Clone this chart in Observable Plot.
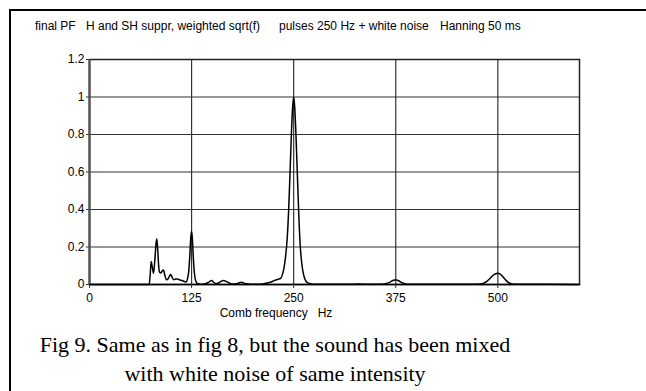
<!DOCTYPE html>
<html>
<head>
<meta charset="utf-8">
<script src="https://cdn.jsdelivr.net/npm/d3@7"></script>
<script src="https://cdn.jsdelivr.net/npm/@observablehq/plot@0.6"></script>
<style>
  html, body { margin: 0; padding: 0; background: #fff; }
  #wrap { position: relative; width: 646px; height: 391px; overflow: hidden; background: #fff;
          font-family: "Liberation Sans", Arial, sans-serif; color: #000; }
  #border { position: absolute; left: 9px; top: 9px; width: 700px; height: 500px;
            border-top: 2px solid #000; border-left: 2px solid #000; }
  .hdr { position: absolute; top: 19px; font-size: 12px; line-height: 14px; white-space: nowrap; }
  #chart { position: absolute; left: 0; top: 0; }
  #xlabel { position: absolute; left: 176px; width: 200px; top: 306px; text-align: center;
            font-size: 12px; line-height: 14px; white-space: pre; }
  #caption { position: absolute; left: 0; width: 550px; top: 330px; text-align: center;
             font-family: "Liberation Serif", "Times New Roman", serif; font-size: 22px; line-height: 29px; }
</style>
</head>
<body>
<div id="wrap">
  <div id="border"></div>
  <div class="hdr" style="left:35px">final PF</div>
  <div class="hdr" style="left:86px">H and SH suppr, weighted sqrt(f)</div>
  <div class="hdr" style="left:279px">pulses 250 Hz + white noise</div>
  <div class="hdr" style="left:440px">Hanning 50 ms</div>
  <div id="chart"></div>
  <div id="xlabel">Comb frequency   Hz</div>
  <div id="caption">Fig 9. Same as in fig 8, but the sound has been mixed<br>with white noise of same intensity</div>
</div>
<script>
// Comb frequency (Hz)
const freq = [0, 73, 74.3, 75.5, 76.8, 78.4, 80, 81.3, 82.4, 83.6, 84.7, 85.8, 87.5, 89, 90.6, 92.3, 94.3, 96.5, 98.3, 99.6,
  101.3, 103.3, 105.5, 107.5, 110, 113.5, 116, 118.5, 120, 121.5, 122.8, 124, 125, 126, 127.2, 128.5, 130, 132,
  134, 138, 142, 146, 149.4, 152, 155, 158, 161, 164.5, 168, 172, 177, 182, 186, 190, 195, 200, 206, 212, 218, 223,
  227, 231, 234, 236, 238, 240, 242, 243.8, 245.5, 247.2, 248.8, 250, 251.2, 252.8, 254.5, 256.2, 258, 260,
  262, 264.5, 268, 273, 285, 300, 315, 330, 345, 358, 364, 368, 371.5, 375, 378.5, 382, 386, 392, 410, 430, 455, 475,
  482, 487, 491, 495, 498, 500, 502.5, 506, 510, 514, 519, 530, 560, 600];
// final PF values
const pf = [0, 0, 0.05, 0.123, 0.095, 0.06, 0.13, 0.21, 0.244, 0.18, 0.1, 0.066, 0.062, 0.072, 0.078, 0.048, 0.025, 0.032, 0.048, 0.053,
  0.036, 0.026, 0.029, 0.03, 0.025, 0.021, 0.016, 0.014, 0.03, 0.07, 0.15, 0.25, 0.284, 0.24, 0.14, 0.06, 0.02, 0.006,
  0.003, 0.002, 0.004, 0.012, 0.021, 0.012, 0.004, 0.008, 0.017, 0.021, 0.015, 0.006, 0.003, 0.007, 0.012, 0.006, 0.003, 0.002, 0.002, 0.003, 0.008, 0.015,
  0.022, 0.028, 0.033, 0.05, 0.085, 0.145, 0.24, 0.39, 0.59, 0.8, 0.95, 1.0, 0.95, 0.8, 0.59, 0.38, 0.21, 0.11,
  0.055, 0.022, 0.007, 0.002, 0.001, 0.002, 0.001, 0.003, 0.001, 0.002, 0.006, 0.013, 0.021, 0.025, 0.02, 0.011, 0.004, 0.001, 0.001, 0.002, 0.001, 0.002,
  0.006, 0.018, 0.035, 0.052, 0.059, 0.06, 0.057, 0.042, 0.022, 0.008, 0.002, 0.001, 0.001, 0];
const xTicks = [0, 125, 250, 375, 500];
const yTicks = [0, 0.2, 0.4, 0.6, 0.8, 1, 1.2];

const data = freq.map((f, i) => ({f, v: pf[i]}));

const chart = Plot.plot({
  width: 646,
  height: 330,
  marginLeft: 89,
  marginRight: 67,
  marginTop: 59,
  marginBottom: 46,
  style: {fontFamily: "Liberation Sans, Arial, sans-serif", fontSize: "12px", color: "#000", background: "transparent"},
  x: {domain: [0, 600]},
  y: {domain: [0, 1.2]},
  marks: [
    Plot.gridX(xTicks, {stroke: "#333", strokeOpacity: 1, strokeWidth: 1.2}),
    Plot.gridY(yTicks, {stroke: "#333", strokeOpacity: 1, strokeWidth: 1.2}),
    Plot.frame({stroke: "#222", strokeWidth: 1.5}),
    Plot.ruleX([0], {stroke: "#555", strokeWidth: 2.2}),
    Plot.lineY(data, {x: "f", y: "v", stroke: "#000", strokeWidth: 1.5, curve: "monotone-x"}),
    Plot.ruleY([0], {stroke: "#000", strokeWidth: 1.5}),
    Plot.axisX(xTicks, {tickSize: 4, tickPadding: 5, label: null, stroke: "#333", fill: "#000", fontSize: 12}),
    Plot.axisY(yTicks, {tickSize: 3, tickPadding: 2, label: null, stroke: "#333", fill: "#000", fontSize: 12,
      tickFormat: d => String(+d.toFixed(1))})
  ]
});
document.getElementById("chart").appendChild(chart);
</script>
</body>
</html>
